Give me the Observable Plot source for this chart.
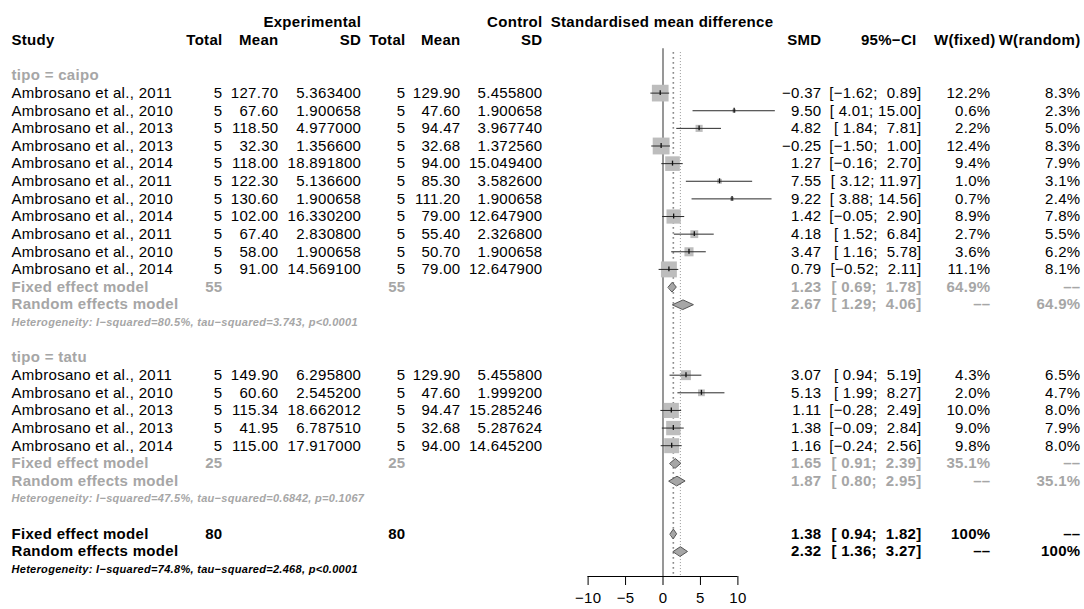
<!DOCTYPE html>
<html>
<head>
<meta charset="utf-8">
<script src="https://cdn.jsdelivr.net/npm/d3@7"></script>
<script src="https://cdn.jsdelivr.net/npm/@observablehq/plot@0.6"></script>
<style>
html, body { margin: 0; padding: 0; background: #fff; }
#chart svg { display: block; }
</style>
</head>
<body>
<div id="chart"></div>
<script>
// ---------------- data ----------------
const studyLabel = [
  "Ambrosano et al., 2011", "Ambrosano et al., 2010", "Ambrosano et al., 2013", "Ambrosano et al., 2013",
  "Ambrosano et al., 2014", "Ambrosano et al., 2011", "Ambrosano et al., 2010", "Ambrosano et al., 2014",
  "Ambrosano et al., 2011", "Ambrosano et al., 2010", "Ambrosano et al., 2014",
  "Ambrosano et al., 2011", "Ambrosano et al., 2010", "Ambrosano et al., 2013", "Ambrosano et al., 2013",
  "Ambrosano et al., 2014"
];
const studyGroup = ["caipo","caipo","caipo","caipo","caipo","caipo","caipo","caipo","caipo","caipo","caipo",
  "tatu","tatu","tatu","tatu","tatu"];
const expN    = [5,5,5,5,5,5,5,5,5,5,5, 5,5,5,5,5];
const expMean = [127.70, 67.60, 118.50, 32.30, 118.00, 122.30, 130.60, 102.00, 67.40, 58.00, 91.00,
  149.90, 60.60, 115.34, 41.95, 115.00];
const expSD   = [5.363400, 1.900658, 4.977000, 1.356600, 18.891800, 5.136600, 1.900658, 16.330200, 2.830800, 1.900658, 14.569100,
  6.295800, 2.545200, 18.662012, 6.787510, 17.917000];
const ctlN    = [5,5,5,5,5,5,5,5,5,5,5, 5,5,5,5,5];
const ctlMean = [129.90, 47.60, 94.47, 32.68, 94.00, 85.30, 111.20, 79.00, 55.40, 50.70, 79.00,
  129.90, 47.60, 94.47, 32.68, 94.00];
const ctlSD   = [5.455800, 1.900658, 3.967740, 1.372560, 15.049400, 3.582600, 1.900658, 12.647900, 2.326800, 1.900658, 12.647900,
  5.455800, 1.999200, 15.285246, 5.287624, 14.645200];
const smd     = [-0.37, 9.50, 4.82, -0.25, 1.27, 7.55, 9.22, 1.42, 4.18, 3.47, 0.79,
  3.07, 5.13, 1.11, 1.38, 1.16];
const ciLow   = [-1.62, 4.01, 1.84, -1.50, -0.16, 3.12, 3.88, -0.05, 1.52, 1.16, -0.52,
  0.94, 1.99, -0.28, -0.09, -0.24];
const ciHigh  = [0.89, 15.00, 7.81, 1.00, 2.70, 11.97, 14.56, 2.90, 6.84, 5.78, 2.11,
  5.19, 8.27, 2.49, 2.84, 2.56];
const wFixed  = [12.2, 0.6, 2.2, 12.4, 9.4, 1.0, 0.7, 8.9, 2.7, 3.6, 11.1,
  4.3, 2.0, 10.0, 9.0, 9.8];
const wRandom = [8.3, 2.3, 5.0, 8.3, 7.9, 3.1, 2.4, 7.8, 5.5, 6.2, 8.1,
  6.5, 4.7, 8.0, 7.9, 8.0];

const groupNames     = ["caipo", "tatu"];
const groupN         = [55, 25];
const groupFixedSmd  = [1.23, 1.65];
const groupFixedLow  = [0.69, 0.91];
const groupFixedHigh = [1.78, 2.39];
const groupFixedW    = [64.9, 35.1];
const groupRandSmd   = [2.67, 1.87];
const groupRandLow   = [1.29, 0.80];
const groupRandHigh  = [4.06, 2.95];
const groupRandW     = [64.9, 35.1];
const groupHet = [
  "Heterogeneity: I\u2212squared=80.5%, tau\u2212squared=3.743, p<0.0001",
  "Heterogeneity: I\u2212squared=47.5%, tau\u2212squared=0.6842, p=0.1067"
];

const totalN        = 80;
const overallModels = ["Fixed effect model", "Random effects model"];
const overallSmd    = [1.38, 2.32];
const overallLow    = [0.94, 1.36];
const overallHigh   = [1.82, 3.27];
const overallW      = ["100%", "100%"];
const overallHet    = "Heterogeneity: I\u2212squared=74.8%, tau\u2212squared=2.468, p<0.0001";

const axisTicks = [-10, -5, 0, 5, 10];

// ---------------- layout ----------------
const W = 1084, H = 609;
const rowY = d3.scaleLinear([0, 31], [22.1, 568.6]);   // row index -> pixel
const xPx = d3.scaleLinear([-10, 10], [587.6, 737.4]);  // SMD -> pixel
const X = px => xPx.invert(px);
const axisPx = 576;
const axisRow = rowY.invert(axisPx);

const col = {
  study: 11, expN: 222, expMean: 278, expSD: 360.7, ctlN: 405, ctlMean: 460, ctlSD: 542,
  smd: 821, ci: 921, ciHdr: 916, wf: 990, wfHdr: 995, wr: 1080, title: 661.5
};
const GRAY = "#a6a6a6";
const NB = s => s.replace(/ /g, "\u00a0");
const f2 = d3.format(".2f"), f1 = d3.format(".1f");
const fSD = d3.format(".6f");
const ciStr = (lo, hi) => NB("[" + f2(lo).padStart(5) + "; " + f2(hi).padStart(5) + "]");
const DASH = "\u2013\u2013";

// rows
const studyRows = [];
let r = 3;
const groupRows = [];
groupNames.forEach((g, gi) => {
  const gr = {head: r};
  r++;
  studyLabel.forEach((_, i) => { if (studyGroup[i] === g) { studyRows[i] = r; r++; } });
  gr.fixed = r; gr.random = r + 1; gr.het = r + 2;
  r += 4;
  groupRows.push(gr);
});
const ovFixedRow = r, ovRandRow = r + 1, ovHetRow = r + 2;

// text items
const items = [];
const add = (px, row, t, anchor, style) => items.push({px, row, t: String(t), anchor, style});

add(col.expSD, 0, "Experimental", "end", "bold");
add(col.ctlSD, 0, "Control", "end", "bold");
add(col.title, 0, "Standardised mean difference", "middle", "bold");
add(col.study, 1, "Study", "start", "bold");
add(col.expN, 1, "Total", "end", "bold");
add(col.expMean, 1, "Mean", "end", "bold");
add(col.expSD, 1, "SD", "end", "bold");
add(col.ctlN, 1, "Total", "end", "bold");
add(col.ctlMean, 1, "Mean", "end", "bold");
add(col.ctlSD, 1, "SD", "end", "bold");
add(col.smd, 1, "SMD", "end", "bold");
add(col.ciHdr, 1, "95%\u2212CI", "end", "bold");
add(col.wfHdr, 1, "W(fixed)", "end", "bold");
add(col.wr, 1, "W(random)", "end", "bold");

studyLabel.forEach((lab, i) => {
  const y = studyRows[i];
  add(col.study, y, lab, "start", "norm");
  add(col.expN, y, expN[i], "end", "norm");
  add(col.expMean, y, f2(expMean[i]), "end", "norm");
  add(col.expSD, y, fSD(expSD[i]), "end", "norm");
  add(col.ctlN, y, ctlN[i], "end", "norm");
  add(col.ctlMean, y, f2(ctlMean[i]), "end", "norm");
  add(col.ctlSD, y, fSD(ctlSD[i]), "end", "norm");
  add(col.smd, y, f2(smd[i]), "end", "norm");
  add(col.ci, y, ciStr(ciLow[i], ciHigh[i]), "end", "norm");
  add(col.wf, y, f1(wFixed[i]) + "%", "end", "norm");
  add(col.wr, y, f1(wRandom[i]) + "%", "end", "norm");
});

groupNames.forEach((g, gi) => {
  const gr = groupRows[gi];
  add(col.study, gr.head, "tipo = " + g, "start", "grayBold");
  add(col.study, gr.fixed, "Fixed effect model", "start", "grayBold");
  add(col.expN, gr.fixed, groupN[gi], "end", "grayBold");
  add(col.ctlN, gr.fixed, groupN[gi], "end", "grayBold");
  add(col.smd, gr.fixed, f2(groupFixedSmd[gi]), "end", "grayBold");
  add(col.ci, gr.fixed, ciStr(groupFixedLow[gi], groupFixedHigh[gi]), "end", "grayBold");
  add(col.wf, gr.fixed, f1(groupFixedW[gi]) + "%", "end", "grayBold");
  add(col.wr, gr.fixed, DASH, "end", "grayBold");
  add(col.study, gr.random, "Random effects model", "start", "grayBold");
  add(col.smd, gr.random, f2(groupRandSmd[gi]), "end", "grayBold");
  add(col.ci, gr.random, ciStr(groupRandLow[gi], groupRandHigh[gi]), "end", "grayBold");
  add(col.wf, gr.random, DASH, "end", "grayBold");
  add(col.wr, gr.random, f1(groupRandW[gi]) + "%", "end", "grayBold");
  add(col.study, gr.het, groupHet[gi], "start", "hetGray");
});

add(col.study, ovFixedRow, overallModels[0], "start", "bold");
add(col.expN, ovFixedRow, totalN, "end", "bold");
add(col.ctlN, ovFixedRow, totalN, "end", "bold");
add(col.smd, ovFixedRow, f2(overallSmd[0]), "end", "bold");
add(col.ci, ovFixedRow, ciStr(overallLow[0], overallHigh[0]), "end", "bold");
add(col.wf, ovFixedRow, overallW[0], "end", "bold");
add(col.wr, ovFixedRow, DASH, "end", "bold");
add(col.study, ovRandRow, overallModels[1], "start", "bold");
add(col.smd, ovRandRow, f2(overallSmd[1]), "end", "bold");
add(col.ci, ovRandRow, ciStr(overallLow[1], overallHigh[1]), "end", "bold");
add(col.wf, ovRandRow, DASH, "end", "bold");
add(col.wr, ovRandRow, overallW[1], "end", "bold");
add(col.study, ovHetRow, overallHet, "start", "hetBlack");

const styles = {
  norm:     {fill: "#000"},
  bold:     {fill: "#000", fontWeight: "bold"},
  grayBold: {fill: GRAY, fontWeight: "bold"},
  hetGray:  {fill: GRAY, fontWeight: "bold", fontStyle: "italic", fontSize: 11},
  hetBlack: {fill: "#000", fontWeight: "bold", fontStyle: "italic", fontSize: 11}
};
const textMarks = d3.groups(items, d => d.style, d => d.anchor).flatMap(([st, byA]) =>
  byA.map(([anchor, list]) =>
    Plot.text(list, {x: d => X(d.px), y: "row", text: "t", textAnchor: anchor, fontSize: 15, ...styles[st]})
  )
);

// forest data
const studyData = smd.map((v, i) => ({smd: v, lo: ciLow[i], hi: ciHigh[i], w: wFixed[i], row: studyRows[i]}));
const diamonds = [];
groupNames.forEach((g, gi) => {
  diamonds.push({id: g + "F", est: groupFixedSmd[gi], lo: groupFixedLow[gi], hi: groupFixedHigh[gi], row: groupRows[gi].fixed});
  diamonds.push({id: g + "R", est: groupRandSmd[gi], lo: groupRandLow[gi], hi: groupRandHigh[gi], row: groupRows[gi].random});
});
diamonds.push({id: "oF", est: overallSmd[0], lo: overallLow[0], hi: overallHigh[0], row: ovFixedRow});
diamonds.push({id: "oR", est: overallSmd[1], lo: overallLow[1], hi: overallHigh[1], row: ovRandRow});
const dh = 0.27;
const diamondPts = diamonds.flatMap(d => [
  {id: d.id, x: d.lo, y: d.row}, {id: d.id, x: d.est, y: d.row - dh},
  {id: d.id, x: d.hi, y: d.row}, {id: d.id, x: d.est, y: d.row + dh}
]);

const plot = Plot.plot({
  width: W, height: H,
  marginLeft: 587.6, marginRight: W - 737.4, marginTop: 0, marginBottom: H - axisPx,
  x: {domain: [-10, 10], axis: null},
  y: {domain: [0, 31], range: [22.1, 568.6], axis: null},
  r: {type: "sqrt", domain: [0, 12.4], range: [0, 9.5]},
  style: {fontFamily: "'Liberation Sans', Arial, Helvetica, sans-serif", fontSize: "15px", background: "#fff", letterSpacing: "0.3px", overflow: "visible"},
  marks: [
    // reference lines
    Plot.ruleX([overallSmd[1]], {y1: 1.7, y2: axisRow, stroke: "#9a9a9a", strokeWidth: 1, strokeDasharray: "1,2"}),
    Plot.ruleX([overallSmd[0]], {y1: 1.7, y2: axisRow, stroke: "#8a8a8a", strokeWidth: 1.6, strokeDasharray: "1.6,3.4"}),
    Plot.ruleX([0], {y1: 1.48, y2: axisRow, stroke: "#8c8c8c", strokeWidth: 1.8}),
    // study squares, CIs, point estimates
    Plot.dot(studyData, {x: "smd", y: "row", r: "w", symbol: "square", fill: "#bdbdbd", stroke: "none"}),
    Plot.ruleY(studyData, {y: "row", x1: "lo", x2: "hi", stroke: "#2a2a2a", strokeWidth: 1}),
    Plot.ruleX(studyData, {x: "smd", y1: d => d.row - 0.14, y2: d => d.row + 0.14, stroke: "#111", strokeWidth: 1.3}),
    // diamonds
    Plot.line(diamondPts, {x: "x", y: "y", z: "id", curve: "linear-closed", fill: "#a6a6a6", stroke: "#555", strokeWidth: 1}),
    // axis
    Plot.ruleY([axisRow], {x1: -10, x2: 10, stroke: "#000", strokeWidth: 1}),
    Plot.axisX({anchor: "bottom", ticks: axisTicks, tickSize: 9, tickPadding: 7, tickFormat: d3.format("d"), fontSize: 15, label: null, stroke: "#000"}),
    ...textMarks
  ]
});
document.getElementById("chart").appendChild(plot);
</script>
</body>
</html>
